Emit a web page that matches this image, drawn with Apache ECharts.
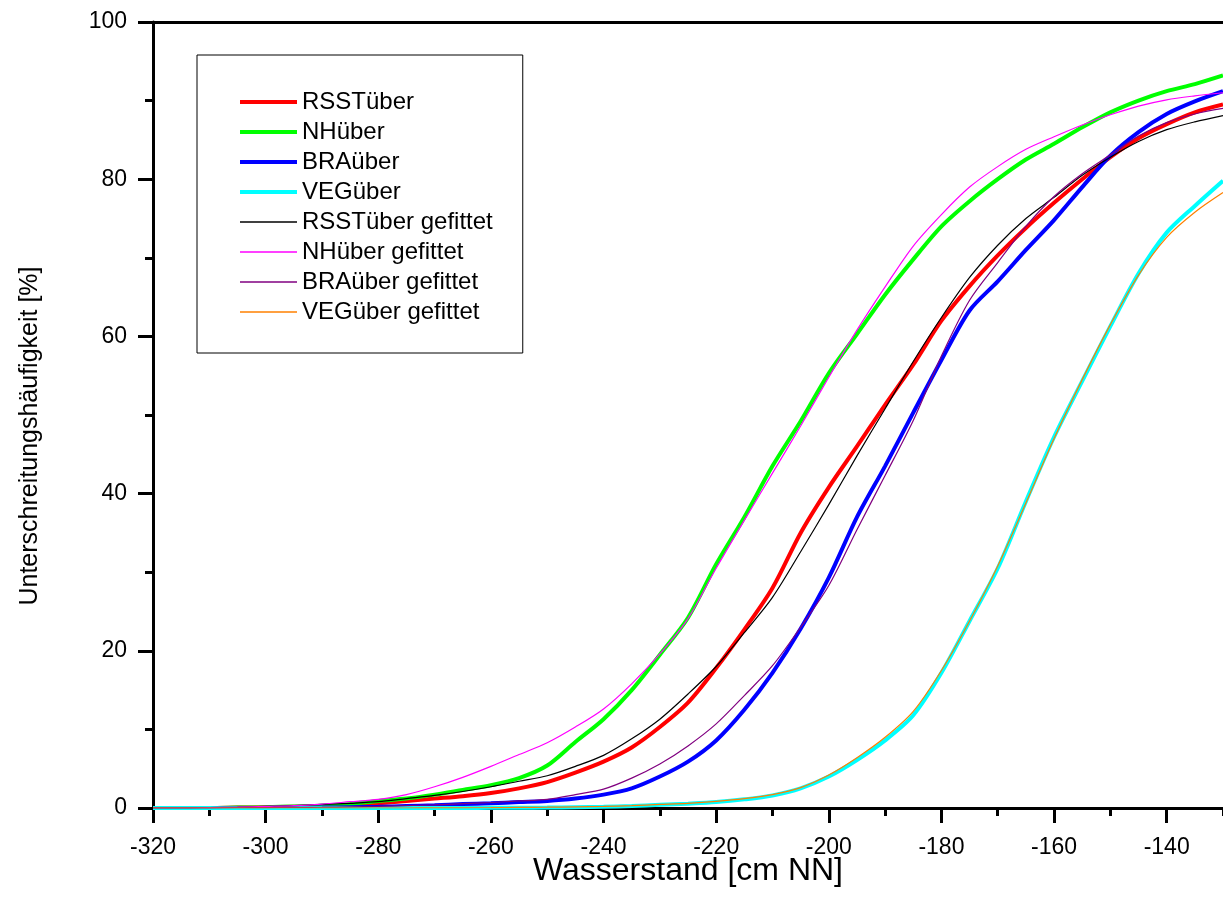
<!DOCTYPE html>
<html>
<head>
<meta charset="utf-8">
<script src="https://cdn.jsdelivr.net/npm/echarts@6/dist/echarts.min.js"></script>
<style>
  html, body { margin: 0; padding: 0; background: #fff; }
  #chart { width: 1223px; height: 912px; }
</style>
</head>
<body>
<div id="chart"></div>
<script>
// Wasserstand [cm NN]
var xValues = [-320, -315, -310, -305, -300, -295, -290, -285, -280, -275,
  -270, -265, -260, -255, -250, -245, -240, -235, -230, -225,
  -220, -215, -210, -205, -200, -195, -190, -185, -180, -175,
  -170, -165, -160, -155, -150, -145, -140, -135, -130];

// gemessen
var rsstUeber = [0, 0, 0, 0.05, 0.1, 0.15, 0.2, 0.4, 0.6, 0.9,
  1.2, 1.5, 1.9, 2.5, 3.3, 4.5, 5.9, 7.7, 10.3, 13.4,
  17.8, 22.7, 28, 35, 40.8, 46, 51.3, 56.4, 62, 66.4,
  70.3, 73.8, 77, 80, 82.8, 85.2, 87, 88.5, 89.5];
var nhUeber = [0, 0, 0, 0.05, 0.1, 0.2, 0.3, 0.5, 0.9, 1.2,
  1.7, 2.3, 2.9, 3.8, 5.4, 8.4, 11.3, 15, 19.5, 24.2,
  31, 37, 43.5, 49.2, 55.3, 60.3, 65.3, 69.8, 74, 77.2,
  80, 82.5, 84.5, 86.6, 88.5, 90, 91.2, 92.1, 93.2];
var braUeber = [0, 0, 0, 0, 0, 0, 0.05, 0.1, 0.15, 0.25,
  0.35, 0.5, 0.6, 0.75, 0.9, 1.2, 1.7, 2.5, 4, 5.9,
  8.6, 12.5, 17.2, 22.8, 29.3, 37, 43.5, 50.3, 57, 63.3,
  67, 71, 74.8, 79, 83, 86, 88.3, 89.9, 91.2];
var vegUeber = [0, 0, 0, 0, 0, 0, 0, 0, 0, 0,
  0, 0, 0.02, 0.03, 0.05, 0.1, 0.15, 0.25, 0.4, 0.55,
  0.75, 1.1, 1.6, 2.5, 4, 6.1, 8.6, 11.8, 17.2, 23.8,
  30.5, 39, 47.2, 54.3, 61.3, 68, 73.2, 76.6, 79.8];

// gefittet
var rsstFit = [0, 0, 0.05, 0.1, 0.2, 0.3, 0.45, 0.6, 0.8, 1.2,
  1.6, 2.1, 2.7, 3.4, 4.1, 5.3, 6.7, 8.8, 11.3, 14.5,
  18, 22.3, 26.8, 32.6, 38.6, 44.8, 50.8, 56.8, 62.4, 67.5,
  71.6, 75, 77.7, 80.5, 82.8, 84.8, 86.3, 87.3, 88.1];
var nhFit = [0, 0, 0.05, 0.1, 0.2, 0.3, 0.5, 0.8, 1.1, 1.7,
  2.7, 3.9, 5.3, 6.8, 8.3, 10.3, 12.6, 15.8, 19.6, 24.1,
  30.5, 36.6, 42.6, 48.6, 54.8, 60.8, 66.3, 71.5, 75.5, 79,
  81.6, 83.8, 85.4, 86.9, 88.2, 89.3, 90.1, 90.6, 91];
var braFit = [0, 0, 0, 0.03, 0.05, 0.08, 0.1, 0.15, 0.2, 0.3,
  0.4, 0.55, 0.7, 0.9, 1.1, 1.7, 2.4, 3.8, 5.6, 7.9,
  10.7, 14.3, 18.1, 23, 28.3, 35.4, 42.3, 49.3, 57.5, 64.6,
  69.4, 74, 77.8, 80.7, 83.1, 85.5, 87.2, 88.3, 89];
var vegFit = [0, 0, 0, 0, 0, 0, 0, 0, 0, 0,
  0.01, 0.02, 0.04, 0.07, 0.1, 0.15, 0.2, 0.3, 0.45, 0.6,
  0.85, 1.2, 1.7, 2.6, 4.2, 6.4, 9, 12.3, 17.5, 23.8,
  30.8, 38.8, 47, 54.5, 61.5, 67.8, 72.6, 75.8, 78.3];

var seriesNames = ['RSSTüber', 'NHüber', 'BRAüber', 'VEGüber',
  'RSSTüber gefittet', 'NHüber gefittet', 'BRAüber gefittet', 'VEGüber gefittet'];
var seriesValues = [rsstUeber, nhUeber, braUeber, vegUeber, rsstFit, nhFit, braFit, vegFit];
var seriesColors = ['#ff0000', '#00ff00', '#0000ff', '#00ffff',
  '#000000', '#ff00ff', '#800080', '#ff8000'];
var seriesWidths = [4, 4, 4, 4, 1.2, 1.2, 1.2, 1.2];

var font = 'Liberation Sans, Arial, sans-serif';

function pairs(ys) {
  return xValues.map(function (x, i) { return [x, ys[i]]; });
}

var series = seriesNames.map(function (name, i) {
  return {
    name: name,
    type: 'line',
    xAxisIndex: 0,
    data: pairs(seriesValues[i]),
    symbol: 'none',
    smooth: 0.3,
    z: i < 4 ? 2 : 3,
    lineStyle: { color: seriesColors[i], width: seriesWidths[i] },
    itemStyle: { color: seriesColors[i] }
  };
});

var chart = echarts.init(document.getElementById('chart'), null, { renderer: 'canvas' });
chart.setOption({
  animation: false,
  backgroundColor: '#fff',
  textStyle: { fontFamily: font },
  grid: { left: 153, right: 0, top: 22, bottom: 104, containLabel: false },
  legend: {
    orient: 'vertical',
    left: 197,
    top: 55,
    padding: [35, 30, 29, 41],
    itemWidth: 57,
    itemHeight: 14,
    itemGap: 6,
    borderColor: '#000',
    borderWidth: 1,
    itemStyle: { color: 'rgba(0,0,0,0)', borderWidth: 0, opacity: 0 },
    textStyle: { fontFamily: font, fontSize: 24, color: '#000' },
    data: seriesNames.map(function (name, i) {
      return { name: name, lineStyle: { width: seriesWidths[i] < 2 ? 1.5 : 4 } };
    })
  },
  graphic: [{
    type: 'text',
    x: 30,
    y: 436,
    rotation: Math.PI / 2,
    style: {
      text: 'Unterschreitungshäufigkeit [%]',
      fontFamily: font,
      fontSize: 25,
      fill: '#000',
      align: 'center',
      verticalAlign: 'middle'
    }
  }],
  xAxis: [
    {
      type: 'value',
      min: -320,
      max: -130,
      interval: 20,
      name: 'Wasserstand [cm NN]',
      nameLocation: 'middle',
      nameGap: 47,
      nameMoveOverlap: false,
      nameTextStyle: { fontFamily: font, fontSize: 32, color: '#000' },
      axisLine: { show: true, onZero: false, lineStyle: { color: '#000', width: 3 } },
      axisTick: { show: true, inside: false, length: 15, lineStyle: { color: '#000', width: 3 } },
      axisLabel: { margin: 28, fontSize: 23, color: '#000', fontFamily: font, showMaxLabel: false },
      splitLine: { show: false }
    },
    {
      // Nebenstriche alle 10 cm
      type: 'value',
      min: -320,
      max: -130,
      interval: 10,
      position: 'bottom',
      axisLine: { show: false },
      axisTick: { show: true, length: 8, lineStyle: { color: '#000', width: 3 } },
      axisLabel: { show: false },
      splitLine: { show: false }
    },
    {
      // oberer Rahmen
      type: 'value',
      min: -320,
      max: -130,
      position: 'top',
      axisLine: { show: true, onZero: false, lineStyle: { color: '#000', width: 3 } },
      axisTick: { show: false },
      axisLabel: { show: false },
      splitLine: { show: false }
    }
  ],
  yAxis: {
    type: 'value',
    min: 0,
    max: 100,
    interval: 20,
    axisLine: { show: true, onZero: false, lineStyle: { color: '#000', width: 3 } },
    axisTick: { show: true, length: 15, lineStyle: { color: '#000', width: 3 } },
    minorTick: { show: true, splitNumber: 2, length: 8, lineStyle: { color: '#000', width: 3 } },
    axisLabel: { margin: 26, fontSize: 23, color: '#000', fontFamily: font },
    splitLine: { show: false }
  },
  series: series
});
</script>
</body>
</html>
